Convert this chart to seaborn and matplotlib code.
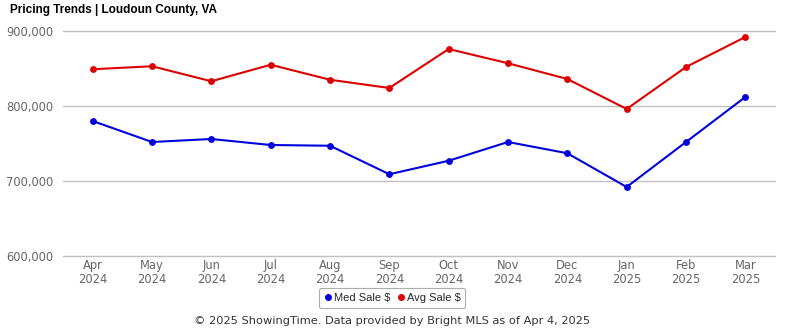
import matplotlib
matplotlib.use("Agg")
import matplotlib.pyplot as plt
import seaborn as sns
import pandas as pd
from matplotlib.ticker import FuncFormatter
from matplotlib.lines import Line2D

months = ["Apr\n2024", "May\n2024", "Jun\n2024", "Jul\n2024", "Aug\n2024", "Sep\n2024",
          "Oct\n2024", "Nov\n2024", "Dec\n2024", "Jan\n2025", "Feb\n2025", "Mar\n2025"]
med_sale = [780000, 752000, 756000, 748000, 747000, 709000, 727000, 752000, 737000, 692000, 752000, 812000]
avg_sale = [849000, 853000, 833000, 855000, 835000, 824000, 876000, 857000, 836000, 796000, 852000, 892000]

df = pd.concat([
    pd.DataFrame({"month": months, "value": med_sale, "series": "Med Sale $"}),
    pd.DataFrame({"month": months, "value": avg_sale, "series": "Avg Sale $"}),
])

sns.set_theme(style="white")
plt.rcParams["font.family"] = ["DejaVu Sans"]

fig = plt.figure(figsize=(7.85, 3.3), dpi=100)
ax = fig.add_axes([63 / 785, (330 - 256) / 330, (775 - 63) / 785, (256 - 31) / 330])

sns.pointplot(data=df, x="month", y="value", hue="series", order=months,
              palette={"Med Sale $": "#0000dd", "Avg Sale $": "#dd0000"},
              markers="o", linewidth=1.5, markersize=3.8, ax=ax, legend=False)

ax.set_ylim(600000, 900000)
ax.set_xlim(-0.5, len(months) - 0.5)
ax.set_yticks([600000, 700000, 800000, 900000])
ax.yaxis.set_major_formatter(FuncFormatter(lambda v, p: f"{int(v):,}"))
for yv in [600000, 700000, 800000, 900000]:
    ax.axhline(yv, color="#c0c0c0", linewidth=1, zorder=0, clip_on=False)
for s in ax.spines.values():
    s.set_visible(False)
ax.set_xlabel("")
ax.set_ylabel("")
ax.tick_params(axis="both", colors="#666666", labelsize=8.3, length=0)
ax.tick_params(axis="x", pad=2)
ax.tick_params(axis="y", pad=7)
for lbl in ax.get_xticklabels():
    lbl.set_linespacing(1.15)

fig.text(10 / 785, 1 - 10 / 330, "Pricing Trends | Loudoun County, VA", fontsize=8.5,
         fontweight="bold", family="Liberation Sans", va="center", ha="left", color="#000000")

handles = [Line2D([], [], marker="o", linestyle="", color="#0000dd", markersize=4),
           Line2D([], [], marker="o", linestyle="", color="#dd0000", markersize=4)]
leg = fig.legend(handles, ["Med Sale $", "Avg Sale $"], loc="center", bbox_to_anchor=(392 / 785, 1 - 298 / 330),
                 ncol=2, frameon=True, fancybox=True, prop={"family": "Liberation Sans", "size": 8},
                 handletextpad=0.15, columnspacing=0.5, handlelength=0.8, borderpad=0.45)
leg.get_frame().set_edgecolor("#999999")
leg.get_frame().set_linewidth(0.8)

fig.text(392 / 785, 1 - 321 / 330, "© 2025 ShowingTime. Data provided by Bright MLS as of Apr 4, 2025",
         ha="center", va="center", fontsize=8.2, color="#333333")

fig.savefig("out.png", dpi=100)
